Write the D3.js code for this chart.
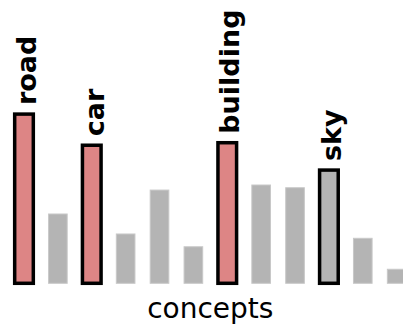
<!DOCTYPE html>
<html>
<head>
<meta charset="utf-8">
<script src="https://cdn.jsdelivr.net/npm/d3@7"></script>
<style>
  html, body { margin: 0; padding: 0; background: #fff; }
  svg { display: block; }
</style>
</head>
<body>
<svg id="chart" width="403" height="329"></svg>
<script>
// Concept activation scores, one bar per concept slot
const concepts = ["road", "c2", "car", "c4", "c5", "c6", "building", "c8", "c9", "sky", "c11", "c12"];
const scores = [0.94, 0.385, 0.767, 0.274, 0.518, 0.203, 0.781, 0.546, 0.531, 0.629, 0.25, 0.078];
// Which concepts are named and highlighted, and their fill group
const labels = ["road", "", "car", "", "", "", "building", "", "", "sky", "", ""];
const groups = ["hit", "none", "hit", "none", "none", "none", "hit", "none", "none", "miss", "none", "none"];
const axisTitle = "concepts";

const fills = { hit: "#dd8585", none: "#b4b4b4", miss: "#b4b4b4" };

const svg = d3.select("#chart");

const x = d3.scaleBand()
  .domain(concepts)
  .range([7.06, 413.6])
  .paddingInner(0.45)
  .paddingOuter(0.225);

const y = d3.scaleLinear()
  .domain([0, 1])
  .range([283.3, 103.3]);

const data = concepts.map((c, i) => ({ c, v: scores[i], label: labels[i], g: groups[i] }));

// bars
svg.append("g")
  .selectAll("rect")
  .data(data)
  .join("rect")
  .attr("x", d => x(d.c))
  .attr("y", d => y(d.v))
  .attr("width", x.bandwidth())
  .attr("height", d => y(0) - y(d.v))
  .attr("fill", d => fills[d.g])
  .attr("stroke", d => d.label ? "#000" : "#c8c8c8")
  .attr("stroke-width", d => d.label ? 3.5 : 1);

// rotated concept names above the highlighted bars
svg.append("g")
  .selectAll("text")
  .data(data.filter(d => d.label))
  .join("text")
  .attr("transform", d => `translate(${x(d.c) + x.bandwidth() / 2 + 12},${y(d.v) - 9}) rotate(-90)`)
  .attr("text-anchor", "start")
  .attr("font-family", "DejaVu Sans")
  .attr("font-weight", "bold")
  .attr("font-size", 27)
  .attr("fill", "#000")
  .text(d => d.label);

// axis title
const [r0, r1] = x.range();
svg.append("text")
  .attr("x", (r0 + r1) / 2)
  .attr("y", 318.3)
  .attr("text-anchor", "middle")
  .attr("font-family", "DejaVu Sans")
  .attr("font-size", 28)
  .attr("fill", "#000")
  .text(axisTitle);
</script>
</body>
</html>
